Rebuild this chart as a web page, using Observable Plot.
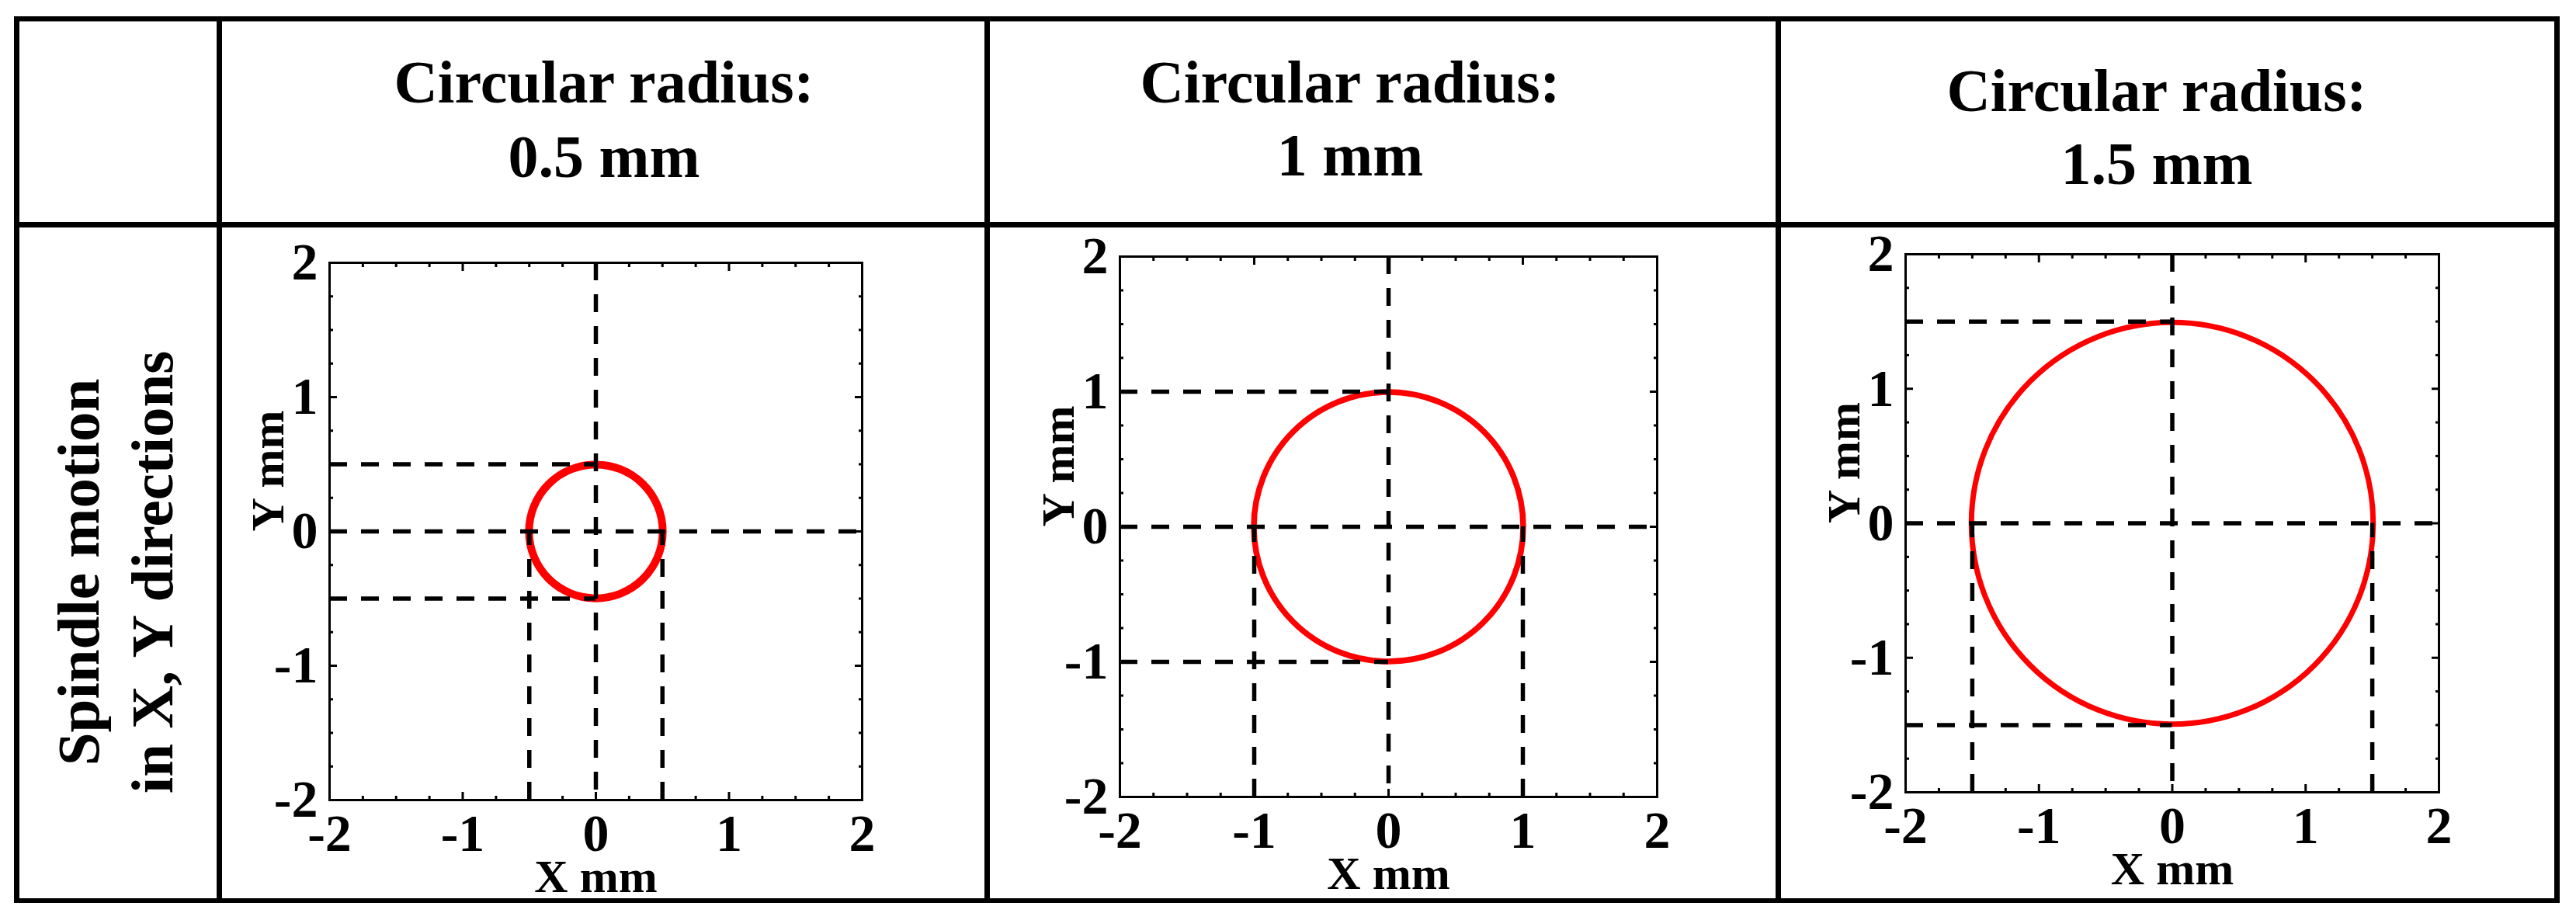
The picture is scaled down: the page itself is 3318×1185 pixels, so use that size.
<!DOCTYPE html>
<html><head><meta charset="utf-8">
<script src="https://cdn.jsdelivr.net/npm/d3@7"></script>
<script src="https://cdn.jsdelivr.net/npm/@observablehq/plot@0.6"></script>
<style>
html,body{margin:0;padding:0;background:#fff;}
#root{position:relative;width:3318px;height:1185px;overflow:hidden;background:#fff;color:#000;font-family:'Liberation Serif','Times New Roman',serif;}
.panel{position:absolute;z-index:1;}
#table{position:absolute;left:0;top:0;z-index:2;pointer-events:none;}
</style></head><body><div id="root"></div>
<script>
// ---- data ----
const radii = [0.5, 1, 1.5];
const headerTitle = "Circular radius:";
const headerValues = ["0.5 mm", "1 mm", "1.5 mm"];
const rowLabelLines = ["Spindle motion", "in X, Y directions"];
const axisDomain = [-2, 2];
const majorTicks = [-2, -1, 0, 1, 2];
const minorTicks = [-1.75, -1.5, -1.25, -0.75, -0.5, -0.25, 0.25, 0.5, 0.75, 1.25, 1.5, 1.75];
const xLabel = "X mm";
const yLabel = "Y mm";

// ---- styling / layout ----
const FONT = "'Liberation Serif','Times New Roman',serif";
const circleColor = "#ff0000";
const circleWidths = [10, 7.5, 7];
const frames = [
  {L: 424, R: 1110, T: 338, B: 1030},
  {L: 1442, R: 2134, T: 330, B: 1026},
  {L: 2454, R: 3141, T: 327, B: 1020}
];
const headerLayout = [
  {cx: 778, b1: 132, b2: 228},
  {cx: 1739, b1: 132, b2: 226},
  {cx: 2778, b1: 143, b2: 237}
];
const root = document.getElementById("root");
const dash = {stroke: "#000", strokeWidth: 5.5, strokeDasharray: "23,18"};
const tickStyle = {fill: "none", stroke: "#000", strokeWidth: 3, label: null};
const labelStyle = {fontSize: 68, fontWeight: "bold", fontFamily: FONT, fill: "#000", stroke: "none", label: null, tickFormat: d => `${d}`};

radii.forEach((r, i) => {
  const f = frames[i];
  const W = f.R - f.L, H = f.B - f.T;
  const ml = 120, mt = 50, mr = 40, mb = 140;
  const center = [{x: 0, y: 0, r}];
  const svg = Plot.plot({
    width: W + ml + mr, height: H + mt + mb,
    marginLeft: ml, marginTop: mt, marginRight: mr, marginBottom: mb,
    style: {background: "transparent", overflow: "visible", fontFamily: FONT, color: "#000"},
    x: {domain: axisDomain, axis: null},
    y: {domain: axisDomain, axis: null},
    r: {type: "linear", domain: [0, axisDomain[1]], range: [0, (W + H) / 4]},
    marks: [
      Plot.dot(center, {x: "x", y: "y", r: "r", stroke: circleColor, strokeWidth: circleWidths[i], fill: "none"}),
      Plot.ruleX([0], dash),
      Plot.ruleY([0], dash),
      Plot.ruleY([r, -r], {x1: axisDomain[0], x2: 0, ...dash}),
      Plot.ruleX([-r, r], {y1: axisDomain[0], y2: 0, ...dash}),
      Plot.frame({stroke: "#000", strokeWidth: 3}),
      Plot.axisX(majorTicks, {anchor: "bottom", tickSize: -10, ...tickStyle}),
      Plot.axisX(majorTicks, {anchor: "top", tickSize: -10, ...tickStyle}),
      Plot.axisY(majorTicks, {anchor: "left", tickSize: -10, ...tickStyle}),
      Plot.axisY(majorTicks, {anchor: "right", tickSize: -10, ...tickStyle}),
      Plot.axisX(minorTicks, {anchor: "bottom", tickSize: -5, ...tickStyle}),
      Plot.axisX(minorTicks, {anchor: "top", tickSize: -5, ...tickStyle}),
      Plot.axisY(minorTicks, {anchor: "left", tickSize: -5, ...tickStyle}),
      Plot.axisY(minorTicks, {anchor: "right", tickSize: -5, ...tickStyle}),
      Plot.axisX(majorTicks, {anchor: "bottom", tickSize: 0, tickPadding: 17, ...labelStyle}),
      Plot.axisY(majorTicks, {anchor: "left", tickSize: 0, tickPadding: 15, ...labelStyle}),
      Plot.text([xLabel], {text: d => d, frameAnchor: "bottom", dy: 118, lineAnchor: "bottom", fontSize: 60, fontWeight: "bold", fontFamily: FONT, fill: "#000"}),
      Plot.text([yLabel], {text: d => d, frameAnchor: "left", dx: -60, rotate: -90, lineAnchor: "bottom", fontSize: 60, fontWeight: "bold", fontFamily: FONT, fill: "#000"})
    ]
  });
  svg.classList.add("panel");
  svg.style.left = (f.L - ml) + "px";
  svg.style.top = (f.T - mt) + "px";
  root.appendChild(svg);
});

// ---- table frame, headers, row label ----
const t = d3.select(root).append("svg").attr("id", "table").attr("width", 3318).attr("height", 1185);
const lines = [
  {x: 18, y: 21, w: 3279, h: 6.5},
  {x: 18, y: 286, w: 3279, h: 7},
  {x: 18, y: 1157, w: 3279, h: 6},
  {x: 18, y: 21, w: 7, h: 1142},
  {x: 3290, y: 21, w: 7, h: 1142},
  {x: 279, y: 21, w: 7, h: 1142},
  {x: 1268, y: 21, w: 7, h: 1142},
  {x: 2287, y: 21, w: 7, h: 1142}
];
t.selectAll("rect").data(lines).join("rect")
  .attr("x", d => d.x).attr("y", d => d.y).attr("width", d => d.w).attr("height", d => d.h).attr("fill", "#000");
const hg = t.append("g").attr("font-family", FONT).attr("font-weight", "bold").attr("font-size", 78).attr("text-anchor", "middle").attr("fill", "#000");
headerValues.forEach((v, i) => {
  const h = headerLayout[i];
  hg.append("text").attr("x", h.cx).attr("y", h.b1).text(headerTitle);
  hg.append("text").attr("x", h.cx).attr("y", h.b2).text(v);
});
const rowBaselines = [127, 222];
rowLabelLines.forEach((s, i) => {
  t.append("text").attr("transform", `translate(${rowBaselines[i]},737) rotate(-90)`)
    .attr("font-family", FONT).attr("font-weight", "bold").attr("font-size", 77)
    .attr("text-anchor", "middle").attr("fill", "#000").text(s);
});
</script>
</body></html>
